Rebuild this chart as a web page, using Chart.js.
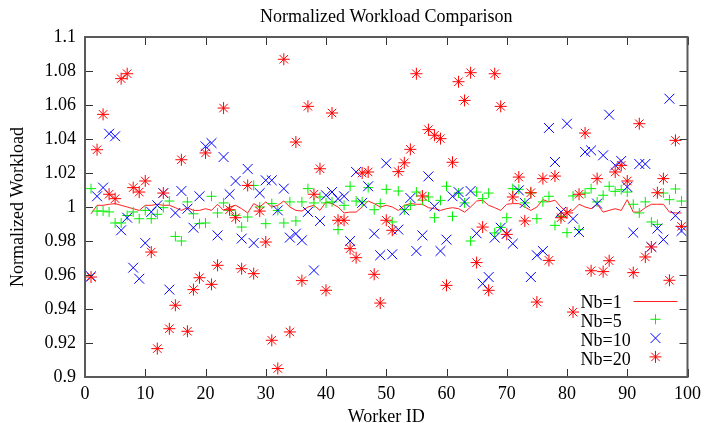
<!DOCTYPE html>
<html>
<head>
<meta charset="utf-8">
<script src="https://cdn.jsdelivr.net/npm/chart.js@4.4.1/dist/chart.umd.min.js"></script>
<style>
  html, body { margin: 0; padding: 0; background: #fff; }
  canvas { display: block; }
</style>
</head>
<body>
<canvas id="workload-chart" width="707" height="423"></canvas>
<script>
const CHART_TITLE = 'Normalized Workload Comparison'
const X_TITLE = 'Worker ID'
const Y_TITLE = 'Normalized Workload'
const SERIES_LABELS = ['Nb=1', 'Nb=5', 'Nb=10', 'Nb=20']
const FONT = "'Liberation Serif', 'Times New Roman', serif"

const workerIds = [
    1, 2, 3, 4, 5, 6, 7, 8, 9, 10, 11, 12, 13, 14, 15, 16, 17, 18, 19, 20,
    21, 22, 23, 24, 25, 26, 27, 28, 29, 30, 31, 32, 33, 34, 35, 36, 37, 38, 39, 40,
    41, 42, 43, 44, 45, 46, 47, 48, 49, 50, 51, 52, 53, 54, 55, 56, 57, 58, 59, 60,
    61, 62, 63, 64, 65, 66, 67, 68, 69, 70, 71, 72, 73, 74, 75, 76, 77, 78, 79, 80,
    81, 82, 83, 84, 85, 86, 87, 88, 89, 90, 91, 92, 93, 94, 95, 96, 97, 98, 99
]

const nb1 = [
    0.996, 1.001, 1.001, 1.0016, 1.002, 1.001, 1.000, 0.999, 0.998, 1.001,
    1.001, 1.0016, 1.001, 1.001, 0.9996, 0.998, 0.9996, 0.998, 0.998, 0.999,
    0.998, 1.0016, 0.998, 1.000, 1.001, 0.999, 0.9965, 1.002, 1.000, 1.003,
    1.000, 1.001, 1.0035, 1.000, 0.998, 0.9976, 1.000, 1.001, 0.998, 1.003,
    1.002, 1.000, 0.9965, 0.997, 0.997, 1.000, 1.0035, 1.002, 1.000, 1.001,
    1.000, 0.998, 1.001, 1.002, 1.0016, 1.0016, 0.9996, 0.999, 0.998, 0.999,
    0.9996, 0.999, 0.997, 1.000, 1.0035, 1.004, 1.001, 0.9996, 0.998, 1.0016,
    1.002, 1.002, 1.000, 0.998, 1.000, 1.0043, 1.003, 1.004, 1.000, 0.997,
    0.998, 1.0016, 1.000, 0.999, 1.0016, 0.997, 0.998, 0.999, 0.998, 1.0043,
    0.997, 0.997, 0.9996, 1.0016, 1.0016, 1.0016, 0.997, 0.9965, 0.9965
]

const nb5 = [
    1.0108, 0.9976, 0.9976, 0.9971, 0.9906, 0.9906, 0.995, 0.9971, 0.9931, 0.998,
    0.9931, 0.9957, 0.9996, 1.0035, 0.9827, 0.980, 1.003, 0.996, 0.9902, 0.9906,
    1.0063, 0.9965, 1.0024, 0.998, 0.9951, 0.9882, 0.9941, 1.0127, 1.000, 0.9902,
    1.002, 0.998, 0.9906, 1.003, 0.9918, 1.003, 1.0108, 1.0024, 1.0059, 1.0024,
    1.003, 0.9867, 1.001, 1.0122, 1.0035, 1.003, 1.0114, 0.9984, 1.002, 1.0104,
    0.9912, 1.0094, 0.9984, 1.001, 1.0088, 1.004, 1.0059, 0.9937, 1.0039, 1.0122,
    0.9945, 1.0082, 1.0024, 0.980, 1.0088, 1.0049, 1.0082, 0.9847, 0.988, 0.9937,
    1.0108, 1.0104, 1.0024, 1.0082, 0.9931, 1.003, 1.0063, 0.9892, 0.9945, 0.9849,
    1.0065, 0.9867, 1.0082, 1.0108, 1.003, 1.0069, 1.0122, 1.0092, 1.0102, 1.0088,
    1.0016, 0.9965, 1.003, 0.9912, 0.9898, 1.0082, 1.0043, 1.0106, 1.0035
]

const nb10 = [
    0.9592, 1.0063, 1.0114, 1.0431, 1.0416, 0.9863, 0.9937, 0.9643, 0.9578, 0.9788,
    0.9971, 1.001, 1.0082, 0.9514, 0.9965, 1.0094, 0.999, 0.9878, 1.0063, 1.0357,
    1.0376, 0.9833, 1.0294, 1.0075, 1.0153, 0.9814, 1.0224, 0.9788, 1.0082, 1.0157,
    1.0157, 0.998, 1.0108, 0.982, 0.9843, 0.9804, 0.9971, 0.9627, 0.9918, 1.0069,
    1.0088, 1.0049, 1.0063, 0.980, 1.0206, 1.0024, 1.0122, 0.9843, 0.9716, 1.0257,
    0.9722, 0.9867, 0.998, 1.0053, 0.9741, 0.9833, 1.018, 1.0004, 0.9741, 0.9808,
    1.0063, 1.0088, 1.0029, 1.0094, 0.9845, 0.9549, 0.9588, 0.982, 0.9878, 0.9843,
    0.9784, 1.0098, 1.0024, 0.9588, 0.9716, 0.9741, 1.0465, 1.0265, 0.9971, 1.049,
    0.9931, 0.9853, 1.0324, 1.0333, 1.002, 1.0304, 1.0543, 1.0245, 1.0271, 1.0118,
    0.9849, 1.0253, 1.0253, 0.9765, 0.9873, 0.9808, 1.0637, 0.9949, 0.9859
]

const nb20 = [
    0.9588, 1.0337, 1.0545, 1.0075, 1.0049, 1.0755, 1.0784, 1.0114, 1.0088, 1.0153,
    0.9735, 0.9167, 1.0082, 0.9284, 0.9422, 1.0278, 0.9269, 0.9514, 0.9584, 1.0318,
    0.9545, 0.9657, 1.0582, 0.9984, 0.9937, 0.9637, 1.0127, 0.9608, 0.9976, 0.9794,
    0.9216, 0.905, 1.0869, 0.9265, 1.0382, 0.9567, 1.0592, 1.0075, 1.0225, 0.951,
    1.0553, 0.9922, 0.9922, 0.9755, 0.9702, 1.020, 1.0206, 0.9604, 0.9435, 0.9922,
    0.9863, 1.0208, 1.026, 1.0339, 1.0784, 1.0065, 1.0455, 1.0422, 1.0402, 0.9539,
    1.0263, 1.0737, 1.0627, 1.079, 0.9673, 0.9882, 0.951, 1.0784, 1.0592, 0.9839,
    1.0059, 1.0176, 0.9918, 1.0084, 0.9441, 1.0167, 0.9686, 1.0182, 0.9937, 0.9965,
    0.9382, 1.0075, 1.0435, 0.9625, 1.0167, 0.962, 0.9684, 1.0206, 1.0245, 1.0153,
    0.9614, 1.049, 0.9706, 0.9765, 1.0084, 1.0167, 0.9569, 1.0392, 0.9886
]

const toPoints = (ys) => workerIds.map((x, i) => ({ x: x, y: ys[i] }))

// gnuplot style frame: grey border, ticks pointing inwards, mirrored on top/right
const framePlugin = {
    id: 'gnuplotFrame',
    afterDatasetsDraw(chart) {
        const { ctx, chartArea: a, scales } = chart
        const tickLen = 8
        ctx.save()
        ctx.strokeStyle = '#333'
        ctx.lineWidth = 1
        ctx.beginPath()
        scales.x.ticks.forEach(t => {
            const px = Math.round(scales.x.getPixelForValue(t.value)) + 0.5
            ctx.moveTo(px, a.bottom)
            ctx.lineTo(px, a.bottom - tickLen)
            ctx.moveTo(px, a.top)
            ctx.lineTo(px, a.top + tickLen)
        })
        scales.y.ticks.forEach(t => {
            const py = Math.round(scales.y.getPixelForValue(t.value)) + 0.5
            ctx.moveTo(a.left, py)
            ctx.lineTo(a.left + tickLen, py)
            ctx.moveTo(a.right, py)
            ctx.lineTo(a.right - tickLen, py)
        })
        ctx.stroke()
        ctx.strokeStyle = '#5a5a5a'
        ctx.lineWidth = 2
        ctx.strokeRect(a.left, a.top, a.right - a.left, a.bottom - a.top)

        // title
        ctx.fillStyle = '#000'
        ctx.font = '18px ' + FONT
        ctx.textAlign = 'center'
        ctx.textBaseline = 'middle'
        ctx.fillText(CHART_TITLE, (a.left + a.right) / 2, 17)
        ctx.restore()
    }
}

// key in the lower right corner: label first, sample after it
const keyPlugin = {
    id: 'gnuplotKey',
    afterDraw(chart) {
        const { ctx, chartArea: a } = chart
        const textX = a.right - 107
        const sampleX = a.right - 32
        const rowH = 18.8
        const firstRow = a.bottom - 76.5
        ctx.save()
        ctx.font = '18px ' + FONT
        ctx.textAlign = 'left'
        ctx.textBaseline = 'middle'
        chart.data.datasets.forEach((ds, i) => {
            const y = firstRow + i * rowH
            ctx.fillStyle = '#000'
            ctx.fillText(ds.label, textX, y + 3)
            ctx.strokeStyle = ds.borderColor
            ctx.lineWidth = 1
            if (ds.showLine) {
                ctx.beginPath()
                ctx.moveTo(sampleX - 22, Math.round(y) + 0.5)
                ctx.lineTo(sampleX + 22, Math.round(y) + 0.5)
                ctx.stroke()
            } else {
                Chart.helpers.drawPoint(ctx, {
                    pointStyle: ds.pointStyle,
                    radius: ds.pointRadius,
                    borderWidth: 1,
                    rotation: 0
                }, sampleX, y)
            }
        })
        ctx.restore()
    }
}

const data = {
    datasets: [
        {
            label: SERIES_LABELS[0],
            data: toPoints(nb1),
            showLine: true,
            borderColor: '#ff2020',
            borderWidth: 1,
            pointRadius: 0,
            order: 4
        },
        {
            label: SERIES_LABELS[1],
            data: toPoints(nb5),
            showLine: false,
            pointStyle: 'cross',
            pointRadius: 5,
            borderColor: '#00f000',
            pointBorderWidth: 1,
            order: 3
        },
        {
            label: SERIES_LABELS[2],
            data: toPoints(nb10),
            showLine: false,
            pointStyle: 'crossRot',
            pointRadius: 7,
            borderColor: '#0000ff',
            pointBorderWidth: 1,
            order: 2
        },
        {
            label: SERIES_LABELS[3],
            data: toPoints(nb20),
            showLine: false,
            pointStyle: 'star',
            pointRadius: 6,
            borderColor: '#ff0000',
            pointBorderWidth: 1,
            order: 1
        }
    ]
}

const tickFont = { family: FONT, size: 18 }

const config = {
    type: 'scatter',
    data: data,
    options: {
        responsive: false,
        animation: false,
        devicePixelRatio: 1,
        layout: { padding: { top: 37, right: 15, left: 0, bottom: 0 } },
        plugins: {
            legend: { display: false },
            tooltip: { enabled: false }
        },
        scales: {
            x: {
                type: 'linear',
                min: 0,
                max: 100,
                grid: { display: false, drawTicks: false },
                border: { display: false },
                ticks: { stepSize: 10, padding: 6, color: '#000', font: tickFont },
                title: {
                    display: true,
                    text: X_TITLE,
                    color: '#000',
                    font: { family: FONT, size: 18, lineHeight: 1 },
                    padding: { top: 0, bottom: -3 }
                },
                afterFit(scale) { scale.height = 46 }
            },
            y: {
                type: 'linear',
                min: 0.9,
                max: 1.1,
                grid: { display: false, drawTicks: false },
                border: { display: false },
                ticks: {
                    stepSize: 0.02,
                    padding: 9,
                    color: '#000',
                    font: tickFont,
                    callback: v => String(Number(v.toFixed(2)))
                },
                title: {
                    display: true,
                    text: Y_TITLE,
                    color: '#000',
                    font: { family: FONT, size: 18, lineHeight: 1 },
                    padding: { top: 9, bottom: 0 }
                },
                afterFit(scale) { scale.width = 85 }
            }
        }
    },
    plugins: [framePlugin, keyPlugin]
}

const chart = new Chart(document.getElementById('workload-chart'), config)
</script>
</body>
</html>
